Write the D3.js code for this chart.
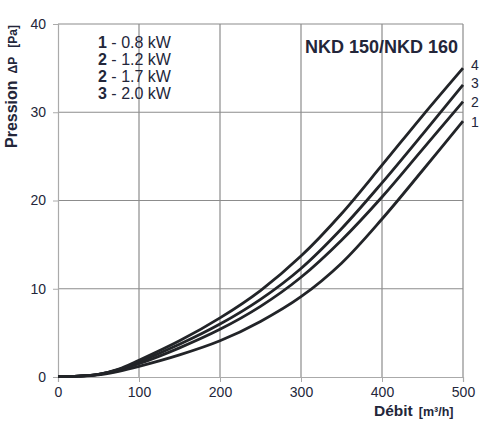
<!DOCTYPE html>
<html>
<head>
<meta charset="utf-8">
<script src="https://cdn.jsdelivr.net/npm/d3@7"></script>
<style>
  body { margin: 0; background: #fff; }
  text { font-family: "Liberation Sans", Arial, sans-serif; fill: #23263a; }
</style>
</head>
<body>
<div id="chart"></div>
<script>
// airflow (m3/h) and pressure drop (Pa)
var flow = [0, 25, 50, 75, 100, 150, 200, 250, 300, 350, 400, 450, 500];
var curve1 = [0.05, 0.1, 0.25, 0.65, 1.2, 2.5, 4.1, 6.3, 9.1, 12.9, 17.9, 23.4, 29.0];
var curve2 = [0.05, 0.1, 0.3, 0.8, 1.5, 3.3, 5.4, 8.0, 11.3, 15.5, 20.4, 25.8, 31.2];
var curve3 = [0.05, 0.1, 0.3, 0.85, 1.7, 3.7, 6.0, 8.8, 12.3, 16.8, 22.0, 27.5, 33.1];
var curve4 = [0.05, 0.1, 0.3, 0.9, 1.9, 4.1, 6.7, 9.8, 13.7, 18.5, 24.0, 29.6, 35.0];
var curveNames = ["1", "2", "3", "4"];
var legendNums = ["1", "2", "2", "3"];
var legendPower = ["0.8 kW", "1.2 kW", "1.7 kW", "2.0 kW"];
var xTicks = [0, 100, 200, 300, 400, 500];
var yTicks = [0, 10, 20, 30, 40];

var width = 488, height = 426;
var plotLeft = 58, plotRight = 463, plotTop = 24, plotBottom = 377;

var svg = d3.select("#chart").append("svg")
    .attr("width", width)
    .attr("height", height);

var x = d3.scaleLinear().domain([0, 500]).range([plotLeft, plotRight]);
var y = d3.scaleLinear().domain([0, 40]).range([plotBottom, plotTop]);

// grid
svg.append("g").selectAll("line").data(xTicks.slice(1))
  .enter().append("line")
    .attr("x1", d => x(d)).attr("x2", d => x(d))
    .attr("y1", plotTop).attr("y2", plotBottom)
    .attr("stroke", "#8c8c8c").attr("stroke-width", 1.2);
svg.append("g").selectAll("line").data(yTicks.slice(1))
  .enter().append("line")
    .attr("x1", plotLeft).attr("x2", plotRight)
    .attr("y1", d => y(d)).attr("y2", d => y(d))
    .attr("stroke", "#8c8c8c").attr("stroke-width", 1.2);

// axes
var yAxis = svg.append("g")
    .attr("transform", "translate(" + plotLeft + ",0)")
    .call(d3.axisLeft(y).tickValues(yTicks).tickSize(5).tickPadding(7));
var xAxis = svg.append("g")
    .attr("transform", "translate(0," + plotBottom + ")")
    .call(d3.axisBottom(x).tickValues(xTicks).tickSize(5).tickPadding(5));
[xAxis, yAxis].forEach(function(a) {
  a.select(".domain").attr("stroke", "#aaa").attr("stroke-width", 1.2);
  a.selectAll(".tick line").attr("stroke", "#aaa");
  a.selectAll(".tick text")
    .attr("font-size", 14)
    .style("font-family", "Liberation Sans, Arial, sans-serif")
    .attr("fill", "#23263a");
});

// curves
var series = [curve1, curve2, curve3, curve4];
var line = d3.line()
    .x((d, i) => x(flow[i]))
    .y(d => y(d))
    .curve(d3.curveCatmullRom.alpha(0.5));

svg.append("g").selectAll("path").data(series)
  .enter().append("path")
    .attr("d", line)
    .attr("fill", "none")
    .attr("stroke", "#222428")
    .attr("stroke-width", 2.8);

// curve labels at the right end
var labelOffset = [6, 5, 3, 2];
svg.append("g").selectAll("text").data(series)
  .enter().append("text")
    .attr("x", x(500) + 12)
    .attr("y", (d, i) => y(d[d.length - 1]) + labelOffset[i])
    .attr("text-anchor", "middle")
    .attr("font-size", 14)
    .text((d, i) => curveNames[i]);

// legend
var legend = svg.append("g").selectAll("text").data(legendNums)
  .enter().append("text")
    .attr("x", 98)
    .attr("y", (d, i) => 48 + i * 17)
    .attr("font-size", 16);
legend.append("tspan").attr("font-weight", "bold").text(d => d);
legend.append("tspan").text((d, i) => " - " + legendPower[i]);

// title
svg.append("text")
    .attr("x", 458).attr("y", 53)
    .attr("text-anchor", "end")
    .attr("font-size", 18)
    .attr("font-weight", "bold")
    .text("NKD 150/NKD 160");

// axis titles
var xt = svg.append("text")
    .attr("x", 374).attr("y", 416)
    .attr("font-weight", "bold");
xt.append("tspan").attr("font-size", 15.5).text("Débit");
xt.append("tspan").attr("dx", 6).attr("font-size", 12.5).text("[m³/h]");

var yt = svg.append("text")
    .attr("transform", "translate(17,148) rotate(-90)")
    .attr("font-weight", "bold");
yt.append("tspan").attr("font-size", 16).text("Pression");
yt.append("tspan").attr("dx", 7).attr("font-size", 12).text("ΔP");
yt.append("tspan").attr("dx", 9).attr("font-size", 12).text("[Pa]");
</script>
</body>
</html>
